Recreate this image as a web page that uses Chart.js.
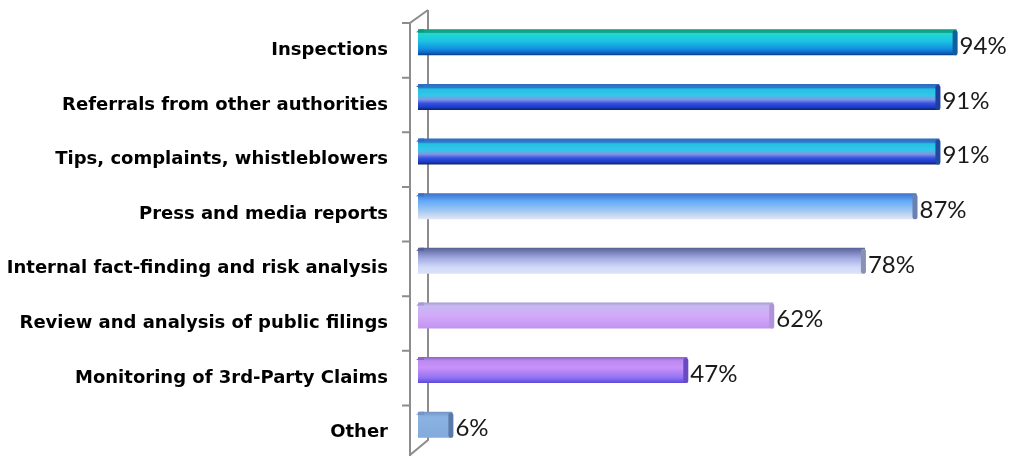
<!DOCTYPE html>
<html>
<head>
<meta charset="utf-8">
<script src="https://cdn.jsdelivr.net/npm/chart.js@4/dist/chart.umd.min.js"></script>
<style>
    html, body { margin: 0; padding: 0; background: #fff; }
    #wrap { width: 1013px; height: 456px; }
</style>
</head>
<body>
<div id="wrap"><canvas id="sourcesChart"></canvas></div>
<script>
// Sources of information (share of respondents, %)
const categories = [
    'Inspections',
    'Referrals from other authorities',
    'Tips, complaints, whistleblowers',
    'Press and media reports',
    'Internal fact-finding and risk analysis',
    'Review and analysis of public filings',
    'Monitoring of 3rd-Party Claims',
    'Other'
];
const shares = [94, 91, 91, 87, 78, 62, 47, 6];

// vertical gradient stops for each bar, top -> bottom
const barStops = [
    [[0, '#0e9a7c'], [0.12, '#12a890'], [0.16, '#22d8d4'], [0.45, '#1cc4e2'], [0.75, '#1290e0'], [0.9, '#1064c4'], [1, '#103a7c']],
    [[0, '#2e6cc0'], [0.14, '#2c7ccc'], [0.2, '#22c2e2'], [0.45, '#36c6ea'], [0.6, '#8494e2'], [0.75, '#3452e2'], [0.9, '#1a3acb'], [1, '#102254']],
    [[0, '#2e6cc0'], [0.14, '#2c7ccc'], [0.2, '#22c2e2'], [0.45, '#36c6ea'], [0.6, '#8494e2'], [0.75, '#3452e2'], [0.9, '#1a3acb'], [1, '#102254']],
    [[0, '#4070c0'], [0.14, '#4c8ae2'], [0.3, '#62aaf8'], [0.7, '#a6caf2'], [1, '#e2e6f2']],
    [[0, '#5a6092'], [0.14, '#727cb4'], [0.4, '#a2aae2'], [0.75, '#d2daf8'], [1, '#dae2f8']],
    [[0, '#a898d8'], [0.14, '#c8baf2'], [0.5, '#d2aaf8'], [1, '#c294f2']],
    [[0, '#9062c2'], [0.14, '#ba8af2'], [0.4, '#ca92f8'], [0.8, '#9272f2'], [1, '#5a4ada']],
    [[0, '#7294c4'], [0.2, '#8ab2e2'], [1, '#82aada']]
];
const capColors = ['#0f5ea0', '#1e3ea0', '#1e4aa0', '#6a80b0', '#8a92b4', '#b092da', '#6a4ac2', '#5a7aaa'];

const BAR_PCT = 0.95;
const CAT_PCT = 0.5;

function barFill(ctx) {
    const chart = ctx.chart;
    const y = chart.scales.y;
    const stops = barStops[ctx.dataIndex] || barStops[0];
    if (!chart.chartArea || !y || ctx.type !== 'data') return stops[1][1];
    const c = y.getPixelForValue(ctx.dataIndex);
    const h = (y.height / categories.length) * BAR_PCT * CAT_PCT / 2;
    const g = chart.ctx.createLinearGradient(0, c - h, 0, c + h);
    stops.forEach(s => g.addColorStop(s[0], s[1]));
    return g;
}

// 3D wall behind the bars: front and back axis lines with tick marks
const wallPlugin = {
    id: 'wall',
    beforeDatasetsDraw(chart) {
        const ctx = chart.ctx;
        const area = chart.chartArea;
        const y = chart.scales.y;
        const x0 = chart.scales.x.getPixelForValue(0);
        const step = y.height / categories.length;
        const front = x0 - 8, back = x0 + 10;
        ctx.save();
        ctx.strokeStyle = '#8c8c8c';
        ctx.lineWidth = 2;
        ctx.beginPath();
        ctx.moveTo(back, area.top - 5);
        ctx.lineTo(back, area.bottom - 12);
        ctx.lineTo(front, area.bottom + 3);
        ctx.moveTo(front, area.bottom + 6);
        ctx.lineTo(front, area.top + 8);
        ctx.lineTo(back, area.top - 5);
        for (let i = 0; i < categories.length; i++) {
            const ty = area.top + step * i + 8;
            ctx.moveTo(front - 8, ty);
            ctx.lineTo(front, ty);
        }
        ctx.stroke();
        ctx.restore();
    },
    afterDatasetsDraw(chart) {
        const ctx = chart.ctx;
        const meta = chart.getDatasetMeta(0);
        ctx.save();
        meta.data.forEach((bar, i) => {
            const h = bar.height;
            const top = bar.y - h / 2;
            // slanted top face at the left end
            ctx.fillStyle = barStops[i][0][1];
            ctx.beginPath();
            ctx.moveTo(bar.base - 2, top + 3);
            ctx.lineTo(bar.base + 2, top);
            ctx.lineTo(bar.base + 6, top);
            ctx.lineTo(bar.base + 6, top + 3);
            ctx.closePath();
            ctx.fill();
            // rounded end cap
            ctx.fillStyle = capColors[i];
            ctx.beginPath();
            ctx.roundRect(bar.x - 4, top + 1, 5, h - 1, 3);
            ctx.fill();
        });
        ctx.font = '24px Lato';
        ctx.fillStyle = '#1a1a1a';
        ctx.textAlign = 'left';
        ctx.textBaseline = 'middle';
        meta.data.forEach((bar, i) => {
            ctx.fillText(shares[i] + '%', bar.x + 3, bar.y + 4);
        });
        ctx.restore();
    }
};

document.addEventListener('DOMContentLoaded', function () {
    const sourcesChart = new Chart(document.getElementById('sourcesChart'), {
        type: 'bar',
        data: {
            labels: categories,
            datasets: [{
                data: shares,
                backgroundColor: barFill,
                borderWidth: 0,
                barPercentage: BAR_PCT,
                categoryPercentage: CAT_PCT
            }]
        },
        options: {
            indexAxis: 'y',
            responsive: true,
            maintainAspectRatio: false,
            animation: false,
            layout: { padding: { top: 15, bottom: 4, right: 22, left: 0 } },
            plugins: {
                legend: { display: false },
                tooltip: { enabled: false }
            },
            scales: {
                x: { display: false, min: 0, max: 100 },
                y: {
                    grid: { display: false },
                    border: { display: false },
                    afterFit(scale) {
                        scale.width = 418;
                        scale.paddingTop = 0;
                        scale.paddingBottom = 0;
                    },
                    ticks: {
                        padding: 22,
                        labelOffset: 8,
                        color: '#000',
                        font: { family: 'DejaVu Sans', weight: 'bold', size: 18 }
                    }
                }
            }
        },
        plugins: [wallPlugin]
    });
});
</script>
</body>
</html>
